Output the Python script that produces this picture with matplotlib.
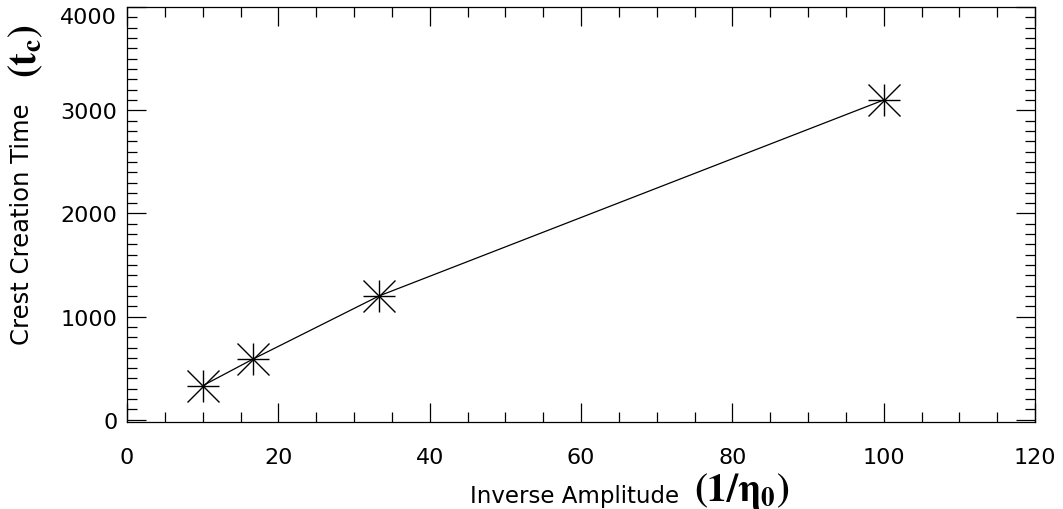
import matplotlib

matplotlib.use("Agg")
import matplotlib.pyplot as plt
from matplotlib.ticker import MultipleLocator

# inverse amplitude 1/eta0 and crest creation time t_c
inv_amp = [10.0, 16.7, 33.3, 100.0]
crest_time = [330, 590, 1200, 3100]

x_ticks = [0, 20, 40, 60, 80, 100, 120]
y_ticks = [0, 1000, 2000, 3000, 4000]

plt.rcParams["mathtext.fontset"] = "stix"

fig = plt.figure(figsize=(10.63, 5.10), dpi=100)
ax = fig.add_axes([0.1195, 0.171, 0.8542, 0.813])

ax.plot(inv_amp, crest_time, "-", color="black", lw=0.9)
# IDL-style asterisk: a plus overlaid with a cross
for m in ("+", "x"):
    ax.plot(inv_amp, crest_time, ls="none", marker=m, ms=23,
            mec="black", mew=1.0)

ax.set_xlim(0, 120)
ax.set_ylim(-20, 4000)
ax.set_xticks(x_ticks)
ax.set_yticks(y_ticks)
ax.xaxis.set_minor_locator(MultipleLocator(5))
ax.yaxis.set_minor_locator(MultipleLocator(100))
ax.tick_params(which="both", direction="in", top=True, right=True,
               width=0.9, labelsize=16)
ax.tick_params(which="major", length=14)
ax.tick_params(which="minor", length=7)
ax.tick_params(axis="x", pad=18)
ax.tick_params(axis="y", pad=7)
for s in ax.spines.values():
    s.set_linewidth(0.9)
# top label sits just below the upper frame, as in the original
ax.get_yticklabels()[-1].set_va("top")

# axis titles: sans text followed by a bold serif symbol part
fig.text(0.442, 0.014, "Inverse Amplitude", fontsize=16.5, ha="left",
         va="baseline")
fig.text(0.698, 0.037, r"$\mathbf{(1/\eta_0)}$", fontsize=28, ha="center",
         va="center")
fig.text(0.0207, 0.3235, "Crest Creation Time", fontsize=17.5, rotation=90,
         ha="center", va="bottom")
fig.text(0.0245, 0.9, r"$\mathbf{(t_c)}$", fontsize=28, rotation=90,
         ha="center", va="center")

fig.savefig("out.png", dpi=100)
